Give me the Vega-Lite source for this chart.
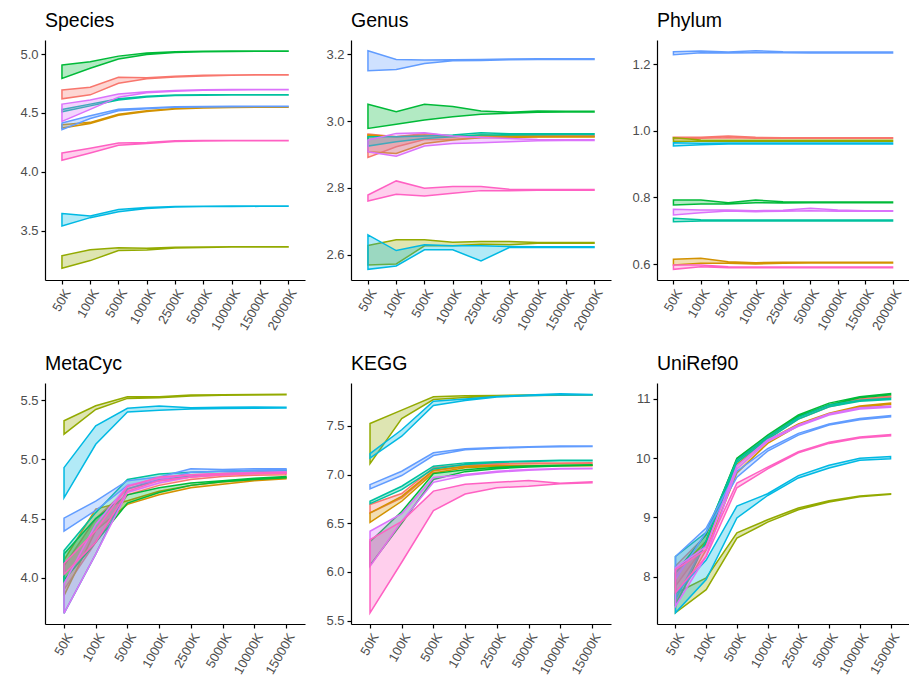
{
"$schema":"https://vega.github.io/schema/vega-lite/v6.json",
"padding":{"left":15,"top":10,"right":0,"bottom":0},
"background":"white",
"data":{"values":[
{"p":"Species","s":"S1","d":"50K","lo":4.62,"hi":4.696},{"p":"Species","s":"S1","d":"100K","lo":4.654,"hi":4.718},{"p":"Species","s":"S1","d":"500K","lo":4.752,"hi":4.803},{"p":"Species","s":"S1","d":"1000K","lo":4.79,"hi":4.80},{"p":"Species","s":"S1","d":"2500K","lo":4.805,"hi":4.812},{"p":"Species","s":"S1","d":"5000K","lo":4.815,"hi":4.82},{"p":"Species","s":"S1","d":"10000K","lo":4.82,"hi":4.823},{"p":"Species","s":"S1","d":"15000K","lo":4.822,"hi":4.824},{"p":"Species","s":"S1","d":"20000K","lo":4.822,"hi":4.824},
{"p":"Species","s":"S2","d":"50K","lo":4.372,"hi":4.40},{"p":"Species","s":"S2","d":"100K","lo":4.41,"hi":4.42},{"p":"Species","s":"S2","d":"500K","lo":4.48,"hi":4.49},{"p":"Species","s":"S2","d":"1000K","lo":4.512,"hi":4.518},{"p":"Species","s":"S2","d":"2500K","lo":4.533,"hi":4.538},{"p":"Species","s":"S2","d":"5000K","lo":4.543,"hi":4.547},{"p":"Species","s":"S2","d":"10000K","lo":4.547,"hi":4.55},{"p":"Species","s":"S2","d":"15000K","lo":4.549,"hi":4.551},{"p":"Species","s":"S2","d":"20000K","lo":4.549,"hi":4.551},
{"p":"Species","s":"S3","d":"50K","lo":3.18,"hi":3.287},{"p":"Species","s":"S3","d":"100K","lo":3.245,"hi":3.338},{"p":"Species","s":"S3","d":"500K","lo":3.33,"hi":3.355},{"p":"Species","s":"S3","d":"1000K","lo":3.335,"hi":3.35},{"p":"Species","s":"S3","d":"2500K","lo":3.352,"hi":3.358},{"p":"Species","s":"S3","d":"5000K","lo":3.357,"hi":3.36},{"p":"Species","s":"S3","d":"10000K","lo":3.36,"hi":3.362},{"p":"Species","s":"S3","d":"15000K","lo":3.361,"hi":3.363},{"p":"Species","s":"S3","d":"20000K","lo":3.361,"hi":3.363},
{"p":"Species","s":"S4","d":"50K","lo":4.794,"hi":4.907},{"p":"Species","s":"S4","d":"100K","lo":4.88,"hi":4.935},{"p":"Species","s":"S4","d":"500K","lo":4.958,"hi":4.983},{"p":"Species","s":"S4","d":"1000K","lo":4.997,"hi":5.01},{"p":"Species","s":"S4","d":"2500K","lo":5.013,"hi":5.02},{"p":"Species","s":"S4","d":"5000K","lo":5.02,"hi":5.024},{"p":"Species","s":"S4","d":"10000K","lo":5.023,"hi":5.026},{"p":"Species","s":"S4","d":"15000K","lo":5.024,"hi":5.026},{"p":"Species","s":"S4","d":"20000K","lo":5.025,"hi":5.027},
{"p":"Species","s":"S5","d":"50K","lo":4.51,"hi":4.53},{"p":"Species","s":"S5","d":"100K","lo":4.56,"hi":4.575},{"p":"Species","s":"S5","d":"500K","lo":4.61,"hi":4.62},{"p":"Species","s":"S5","d":"1000K","lo":4.635,"hi":4.642},{"p":"Species","s":"S5","d":"2500K","lo":4.648,"hi":4.652},{"p":"Species","s":"S5","d":"5000K","lo":4.651,"hi":4.654},{"p":"Species","s":"S5","d":"10000K","lo":4.652,"hi":4.655},{"p":"Species","s":"S5","d":"15000K","lo":4.653,"hi":4.655},{"p":"Species","s":"S5","d":"20000K","lo":4.653,"hi":4.655},
{"p":"Species","s":"S6","d":"50K","lo":3.54,"hi":3.645},{"p":"Species","s":"S6","d":"100K","lo":3.61,"hi":3.625},{"p":"Species","s":"S6","d":"500K","lo":3.66,"hi":3.68},{"p":"Species","s":"S6","d":"1000K","lo":3.688,"hi":3.696},{"p":"Species","s":"S6","d":"2500K","lo":3.70,"hi":3.705},{"p":"Species","s":"S6","d":"5000K","lo":3.704,"hi":3.707},{"p":"Species","s":"S6","d":"10000K","lo":3.705,"hi":3.708},{"p":"Species","s":"S6","d":"15000K","lo":3.706,"hi":3.708},{"p":"Species","s":"S6","d":"20000K","lo":3.706,"hi":3.708},
{"p":"Species","s":"S7","d":"50K","lo":4.358,"hi":4.414},{"p":"Species","s":"S7","d":"100K","lo":4.453,"hi":4.476},{"p":"Species","s":"S7","d":"500K","lo":4.518,"hi":4.532},{"p":"Species","s":"S7","d":"1000K","lo":4.535,"hi":4.543},{"p":"Species","s":"S7","d":"2500K","lo":4.548,"hi":4.553},{"p":"Species","s":"S7","d":"5000K","lo":4.551,"hi":4.555},{"p":"Species","s":"S7","d":"10000K","lo":4.553,"hi":4.556},{"p":"Species","s":"S7","d":"15000K","lo":4.554,"hi":4.557},{"p":"Species","s":"S7","d":"20000K","lo":4.554,"hi":4.557},
{"p":"Species","s":"S8","d":"50K","lo":4.428,"hi":4.575},{"p":"Species","s":"S8","d":"100K","lo":4.53,"hi":4.61},{"p":"Species","s":"S8","d":"500K","lo":4.634,"hi":4.66},{"p":"Species","s":"S8","d":"1000K","lo":4.672,"hi":4.68},{"p":"Species","s":"S8","d":"2500K","lo":4.685,"hi":4.69},{"p":"Species","s":"S8","d":"5000K","lo":4.693,"hi":4.697},{"p":"Species","s":"S8","d":"10000K","lo":4.696,"hi":4.699},{"p":"Species","s":"S8","d":"15000K","lo":4.697,"hi":4.70},{"p":"Species","s":"S8","d":"20000K","lo":4.697,"hi":4.70},
{"p":"Species","s":"S9","d":"50K","lo":4.098,"hi":4.16},{"p":"Species","s":"S9","d":"100K","lo":4.16,"hi":4.2},{"p":"Species","s":"S9","d":"500K","lo":4.225,"hi":4.245},{"p":"Species","s":"S9","d":"1000K","lo":4.24,"hi":4.248},{"p":"Species","s":"S9","d":"2500K","lo":4.258,"hi":4.263},{"p":"Species","s":"S9","d":"5000K","lo":4.262,"hi":4.265},{"p":"Species","s":"S9","d":"10000K","lo":4.263,"hi":4.266},{"p":"Species","s":"S9","d":"15000K","lo":4.264,"hi":4.266},{"p":"Species","s":"S9","d":"20000K","lo":4.264,"hi":4.266},

{"p":"Genus","s":"S1","d":"50K","lo":2.891,"hi":2.961},{"p":"Genus","s":"S1","d":"100K","lo":2.923,"hi":2.953},{"p":"Genus","s":"S1","d":"500K","lo":2.945,"hi":2.963},{"p":"Genus","s":"S1","d":"1000K","lo":2.945,"hi":2.955},{"p":"Genus","s":"S1","d":"2500K","lo":2.951,"hi":2.956},{"p":"Genus","s":"S1","d":"5000K","lo":2.952,"hi":2.956},{"p":"Genus","s":"S1","d":"10000K","lo":2.953,"hi":2.956},{"p":"Genus","s":"S1","d":"15000K","lo":2.954,"hi":2.956},{"p":"Genus","s":"S1","d":"20000K","lo":2.954,"hi":2.956},
{"p":"Genus","s":"S2","d":"50K","lo":2.908,"hi":2.958},{"p":"Genus","s":"S2","d":"100K","lo":2.903,"hi":2.953},{"p":"Genus","s":"S2","d":"500K","lo":2.933,"hi":2.958},{"p":"Genus","s":"S2","d":"1000K","lo":2.943,"hi":2.953},{"p":"Genus","s":"S2","d":"2500K","lo":2.95,"hi":2.958},{"p":"Genus","s":"S2","d":"5000K","lo":2.951,"hi":2.955},{"p":"Genus","s":"S2","d":"10000K","lo":2.952,"hi":2.954},{"p":"Genus","s":"S2","d":"15000K","lo":2.952,"hi":2.954},{"p":"Genus","s":"S2","d":"20000K","lo":2.952,"hi":2.954},
{"p":"Genus","s":"S3","d":"50K","lo":2.57,"hi":2.628},{"p":"Genus","s":"S3","d":"100K","lo":2.573,"hi":2.645},{"p":"Genus","s":"S3","d":"500K","lo":2.627,"hi":2.645},{"p":"Genus","s":"S3","d":"1000K","lo":2.627,"hi":2.638},{"p":"Genus","s":"S3","d":"2500K","lo":2.632,"hi":2.64},{"p":"Genus","s":"S3","d":"5000K","lo":2.63,"hi":2.64},{"p":"Genus","s":"S3","d":"10000K","lo":2.635,"hi":2.637},{"p":"Genus","s":"S3","d":"15000K","lo":2.635,"hi":2.637},{"p":"Genus","s":"S3","d":"20000K","lo":2.635,"hi":2.637},
{"p":"Genus","s":"S4","d":"50K","lo":2.978,"hi":3.05},{"p":"Genus","s":"S4","d":"100K","lo":2.99,"hi":3.028},{"p":"Genus","s":"S4","d":"500K","lo":3.003,"hi":3.05},{"p":"Genus","s":"S4","d":"1000K","lo":3.013,"hi":3.043},{"p":"Genus","s":"S4","d":"2500K","lo":3.02,"hi":3.03},{"p":"Genus","s":"S4","d":"5000K","lo":3.023,"hi":3.026},{"p":"Genus","s":"S4","d":"10000K","lo":3.026,"hi":3.03},{"p":"Genus","s":"S4","d":"15000K","lo":3.027,"hi":3.029},{"p":"Genus","s":"S4","d":"20000K","lo":3.027,"hi":3.029},
{"p":"Genus","s":"S5","d":"50K","lo":2.925,"hi":2.953},{"p":"Genus","s":"S5","d":"100K","lo":2.938,"hi":2.953},{"p":"Genus","s":"S5","d":"500K","lo":2.948,"hi":2.955},{"p":"Genus","s":"S5","d":"1000K","lo":2.953,"hi":2.958},{"p":"Genus","s":"S5","d":"2500K","lo":2.958,"hi":2.965},{"p":"Genus","s":"S5","d":"5000K","lo":2.958,"hi":2.962},{"p":"Genus","s":"S5","d":"10000K","lo":2.959,"hi":2.962},{"p":"Genus","s":"S5","d":"15000K","lo":2.96,"hi":2.962},{"p":"Genus","s":"S5","d":"20000K","lo":2.96,"hi":2.962},
{"p":"Genus","s":"S6","d":"50K","lo":2.557,"hi":2.66},{"p":"Genus","s":"S6","d":"100K","lo":2.567,"hi":2.613},{"p":"Genus","s":"S6","d":"500K","lo":2.615,"hi":2.63},{"p":"Genus","s":"S6","d":"1000K","lo":2.615,"hi":2.627},{"p":"Genus","s":"S6","d":"2500K","lo":2.582,"hi":2.627},{"p":"Genus","s":"S6","d":"5000K","lo":2.622,"hi":2.625},{"p":"Genus","s":"S6","d":"10000K","lo":2.622,"hi":2.624},{"p":"Genus","s":"S6","d":"15000K","lo":2.622,"hi":2.624},{"p":"Genus","s":"S6","d":"20000K","lo":2.622,"hi":2.624},
{"p":"Genus","s":"S7","d":"50K","lo":3.15,"hi":3.21},{"p":"Genus","s":"S7","d":"100K","lo":3.154,"hi":3.184},{"p":"Genus","s":"S7","d":"500K","lo":3.172,"hi":3.182},{"p":"Genus","s":"S7","d":"1000K","lo":3.18,"hi":3.183},{"p":"Genus","s":"S7","d":"2500K","lo":3.181,"hi":3.184},{"p":"Genus","s":"S7","d":"5000K","lo":3.183,"hi":3.185},{"p":"Genus","s":"S7","d":"10000K","lo":3.184,"hi":3.186},{"p":"Genus","s":"S7","d":"15000K","lo":3.184,"hi":3.186},{"p":"Genus","s":"S7","d":"20000K","lo":3.184,"hi":3.186},
{"p":"Genus","s":"S8","d":"50K","lo":2.908,"hi":2.943},{"p":"Genus","s":"S8","d":"100K","lo":2.895,"hi":2.963},{"p":"Genus","s":"S8","d":"500K","lo":2.925,"hi":2.965},{"p":"Genus","s":"S8","d":"1000K","lo":2.933,"hi":2.955},{"p":"Genus","s":"S8","d":"2500K","lo":2.935,"hi":2.951},{"p":"Genus","s":"S8","d":"5000K","lo":2.938,"hi":2.948},{"p":"Genus","s":"S8","d":"10000K","lo":2.941,"hi":2.945},{"p":"Genus","s":"S8","d":"15000K","lo":2.942,"hi":2.944},{"p":"Genus","s":"S8","d":"20000K","lo":2.942,"hi":2.944},
{"p":"Genus","s":"S9","d":"50K","lo":2.761,"hi":2.779},{"p":"Genus","s":"S9","d":"100K","lo":2.781,"hi":2.821},{"p":"Genus","s":"S9","d":"500K","lo":2.776,"hi":2.799},{"p":"Genus","s":"S9","d":"1000K","lo":2.784,"hi":2.804},{"p":"Genus","s":"S9","d":"2500K","lo":2.792,"hi":2.804},{"p":"Genus","s":"S9","d":"5000K","lo":2.792,"hi":2.796},{"p":"Genus","s":"S9","d":"10000K","lo":2.793,"hi":2.795},{"p":"Genus","s":"S9","d":"15000K","lo":2.793,"hi":2.795},{"p":"Genus","s":"S9","d":"20000K","lo":2.793,"hi":2.795},

{"p":"Phylum","s":"S1","d":"50K","lo":0.976,"hi":0.98},{"p":"Phylum","s":"S1","d":"100K","lo":0.977,"hi":0.98},{"p":"Phylum","s":"S1","d":"500K","lo":0.979,"hi":0.984},{"p":"Phylum","s":"S1","d":"1000K","lo":0.977,"hi":0.98},{"p":"Phylum","s":"S1","d":"2500K","lo":0.977,"hi":0.979},{"p":"Phylum","s":"S1","d":"5000K","lo":0.977,"hi":0.979},{"p":"Phylum","s":"S1","d":"10000K","lo":0.977,"hi":0.979},{"p":"Phylum","s":"S1","d":"15000K","lo":0.977,"hi":0.979},{"p":"Phylum","s":"S1","d":"20000K","lo":0.977,"hi":0.979},
{"p":"Phylum","s":"S2","d":"50K","lo":0.597,"hi":0.614},{"p":"Phylum","s":"S2","d":"100K","lo":0.602,"hi":0.617},{"p":"Phylum","s":"S2","d":"500K","lo":0.602,"hi":0.607},{"p":"Phylum","s":"S2","d":"1000K","lo":0.60,"hi":0.604},{"p":"Phylum","s":"S2","d":"2500K","lo":0.602,"hi":0.605},{"p":"Phylum","s":"S2","d":"5000K","lo":0.603,"hi":0.605},{"p":"Phylum","s":"S2","d":"10000K","lo":0.603,"hi":0.605},{"p":"Phylum","s":"S2","d":"15000K","lo":0.603,"hi":0.605},{"p":"Phylum","s":"S2","d":"20000K","lo":0.603,"hi":0.605},
{"p":"Phylum","s":"S3","d":"50K","lo":0.968,"hi":0.979},{"p":"Phylum","s":"S3","d":"100K","lo":0.968,"hi":0.972},{"p":"Phylum","s":"S3","d":"500K","lo":0.968,"hi":0.971},{"p":"Phylum","s":"S3","d":"1000K","lo":0.968,"hi":0.971},{"p":"Phylum","s":"S3","d":"2500K","lo":0.968,"hi":0.971},{"p":"Phylum","s":"S3","d":"5000K","lo":0.968,"hi":0.971},{"p":"Phylum","s":"S3","d":"10000K","lo":0.968,"hi":0.971},{"p":"Phylum","s":"S3","d":"15000K","lo":0.968,"hi":0.971},{"p":"Phylum","s":"S3","d":"20000K","lo":0.968,"hi":0.971},
{"p":"Phylum","s":"S4","d":"50K","lo":0.777,"hi":0.792},{"p":"Phylum","s":"S4","d":"100K","lo":0.78,"hi":0.792},{"p":"Phylum","s":"S4","d":"500K","lo":0.78,"hi":0.784},{"p":"Phylum","s":"S4","d":"1000K","lo":0.784,"hi":0.792},{"p":"Phylum","s":"S4","d":"2500K","lo":0.783,"hi":0.787},{"p":"Phylum","s":"S4","d":"5000K","lo":0.784,"hi":0.786},{"p":"Phylum","s":"S4","d":"10000K","lo":0.784,"hi":0.786},{"p":"Phylum","s":"S4","d":"15000K","lo":0.784,"hi":0.786},{"p":"Phylum","s":"S4","d":"20000K","lo":0.784,"hi":0.786},
{"p":"Phylum","s":"S5","d":"50K","lo":0.727,"hi":0.737},{"p":"Phylum","s":"S5","d":"100K","lo":0.729,"hi":0.733},{"p":"Phylum","s":"S5","d":"500K","lo":0.729,"hi":0.732},{"p":"Phylum","s":"S5","d":"1000K","lo":0.729,"hi":0.732},{"p":"Phylum","s":"S5","d":"2500K","lo":0.729,"hi":0.732},{"p":"Phylum","s":"S5","d":"5000K","lo":0.729,"hi":0.732},{"p":"Phylum","s":"S5","d":"10000K","lo":0.729,"hi":0.732},{"p":"Phylum","s":"S5","d":"15000K","lo":0.729,"hi":0.732},{"p":"Phylum","s":"S5","d":"20000K","lo":0.729,"hi":0.732},
{"p":"Phylum","s":"S6","d":"50K","lo":0.954,"hi":0.964},{"p":"Phylum","s":"S6","d":"100K","lo":0.958,"hi":0.962},{"p":"Phylum","s":"S6","d":"500K","lo":0.96,"hi":0.963},{"p":"Phylum","s":"S6","d":"1000K","lo":0.96,"hi":0.963},{"p":"Phylum","s":"S6","d":"2500K","lo":0.96,"hi":0.963},{"p":"Phylum","s":"S6","d":"5000K","lo":0.96,"hi":0.963},{"p":"Phylum","s":"S6","d":"10000K","lo":0.96,"hi":0.963},{"p":"Phylum","s":"S6","d":"15000K","lo":0.96,"hi":0.963},{"p":"Phylum","s":"S6","d":"20000K","lo":0.96,"hi":0.963},
{"p":"Phylum","s":"S7","d":"50K","lo":1.228,"hi":1.237},{"p":"Phylum","s":"S7","d":"100K","lo":1.234,"hi":1.239},{"p":"Phylum","s":"S7","d":"500K","lo":1.233,"hi":1.236},{"p":"Phylum","s":"S7","d":"1000K","lo":1.234,"hi":1.24},{"p":"Phylum","s":"S7","d":"2500K","lo":1.234,"hi":1.237},{"p":"Phylum","s":"S7","d":"5000K","lo":1.233,"hi":1.236},{"p":"Phylum","s":"S7","d":"10000K","lo":1.233,"hi":1.236},{"p":"Phylum","s":"S7","d":"15000K","lo":1.233,"hi":1.236},{"p":"Phylum","s":"S7","d":"20000K","lo":1.233,"hi":1.236},
{"p":"Phylum","s":"S8","d":"50K","lo":0.747,"hi":0.764},{"p":"Phylum","s":"S8","d":"100K","lo":0.754,"hi":0.762},{"p":"Phylum","s":"S8","d":"500K","lo":0.759,"hi":0.762},{"p":"Phylum","s":"S8","d":"1000K","lo":0.757,"hi":0.76},{"p":"Phylum","s":"S8","d":"2500K","lo":0.758,"hi":0.761},{"p":"Phylum","s":"S8","d":"5000K","lo":0.76,"hi":0.767},{"p":"Phylum","s":"S8","d":"10000K","lo":0.758,"hi":0.762},{"p":"Phylum","s":"S8","d":"15000K","lo":0.758,"hi":0.76},{"p":"Phylum","s":"S8","d":"20000K","lo":0.758,"hi":0.76},
{"p":"Phylum","s":"S9","d":"50K","lo":0.584,"hi":0.597},{"p":"Phylum","s":"S9","d":"100K","lo":0.592,"hi":0.597},{"p":"Phylum","s":"S9","d":"500K","lo":0.589,"hi":0.592},{"p":"Phylum","s":"S9","d":"1000K","lo":0.589,"hi":0.591},{"p":"Phylum","s":"S9","d":"2500K","lo":0.589,"hi":0.591},{"p":"Phylum","s":"S9","d":"5000K","lo":0.589,"hi":0.591},{"p":"Phylum","s":"S9","d":"10000K","lo":0.589,"hi":0.591},{"p":"Phylum","s":"S9","d":"15000K","lo":0.589,"hi":0.591},{"p":"Phylum","s":"S9","d":"20000K","lo":0.589,"hi":0.591},

{"p":"MetaCyc","s":"S1","d":"50K","lo":3.9,"hi":4.1},{"p":"MetaCyc","s":"S1","d":"100K","lo":4.3,"hi":4.5},{"p":"MetaCyc","s":"S1","d":"500K","lo":4.7,"hi":4.75},{"p":"MetaCyc","s":"S1","d":"1000K","lo":4.78,"hi":4.82},{"p":"MetaCyc","s":"S1","d":"2500K","lo":4.83,"hi":4.85},{"p":"MetaCyc","s":"S1","d":"5000K","lo":4.855,"hi":4.87},{"p":"MetaCyc","s":"S1","d":"10000K","lo":4.865,"hi":4.88},{"p":"MetaCyc","s":"S1","d":"15000K","lo":4.87,"hi":4.885},
{"p":"MetaCyc","s":"S2","d":"50K","lo":3.85,"hi":4.15},{"p":"MetaCyc","s":"S2","d":"100K","lo":4.4,"hi":4.58},{"p":"MetaCyc","s":"S2","d":"500K","lo":4.62,"hi":4.65},{"p":"MetaCyc","s":"S2","d":"1000K","lo":4.7,"hi":4.73},{"p":"MetaCyc","s":"S2","d":"2500K","lo":4.76,"hi":4.78},{"p":"MetaCyc","s":"S2","d":"5000K","lo":4.79,"hi":4.81},{"p":"MetaCyc","s":"S2","d":"10000K","lo":4.82,"hi":4.83},{"p":"MetaCyc","s":"S2","d":"15000K","lo":4.835,"hi":4.845},
{"p":"MetaCyc","s":"S3","d":"50K","lo":5.212,"hi":5.325},{"p":"MetaCyc","s":"S3","d":"100K","lo":5.421,"hi":5.452},{"p":"MetaCyc","s":"S3","d":"500K","lo":5.514,"hi":5.528},{"p":"MetaCyc","s":"S3","d":"1000K","lo":5.52,"hi":5.528},{"p":"MetaCyc","s":"S3","d":"2500K","lo":5.535,"hi":5.542},{"p":"MetaCyc","s":"S3","d":"5000K","lo":5.54,"hi":5.545},{"p":"MetaCyc","s":"S3","d":"10000K","lo":5.542,"hi":5.546},{"p":"MetaCyc","s":"S3","d":"15000K","lo":5.544,"hi":5.548},
{"p":"MetaCyc","s":"S4","d":"50K","lo":3.98,"hi":4.2},{"p":"MetaCyc","s":"S4","d":"100K","lo":4.3,"hi":4.5},{"p":"MetaCyc","s":"S4","d":"500K","lo":4.63,"hi":4.7},{"p":"MetaCyc","s":"S4","d":"1000K","lo":4.72,"hi":4.76},{"p":"MetaCyc","s":"S4","d":"2500K","lo":4.78,"hi":4.8},{"p":"MetaCyc","s":"S4","d":"5000K","lo":4.81,"hi":4.82},{"p":"MetaCyc","s":"S4","d":"10000K","lo":4.83,"hi":4.84},{"p":"MetaCyc","s":"S4","d":"15000K","lo":4.845,"hi":4.855},
{"p":"MetaCyc","s":"S5","d":"50K","lo":3.7,"hi":4.23},{"p":"MetaCyc","s":"S5","d":"100K","lo":4.2,"hi":4.55},{"p":"MetaCyc","s":"S5","d":"500K","lo":4.75,"hi":4.83},{"p":"MetaCyc","s":"S5","d":"1000K","lo":4.83,"hi":4.875},{"p":"MetaCyc","s":"S5","d":"2500K","lo":4.86,"hi":4.89},{"p":"MetaCyc","s":"S5","d":"5000K","lo":4.88,"hi":4.9},{"p":"MetaCyc","s":"S5","d":"10000K","lo":4.89,"hi":4.905},{"p":"MetaCyc","s":"S5","d":"15000K","lo":4.9,"hi":4.91},
{"p":"MetaCyc","s":"S6","d":"50K","lo":4.675,"hi":4.93},{"p":"MetaCyc","s":"S6","d":"100K","lo":5.127,"hi":5.283},{"p":"MetaCyc","s":"S6","d":"500K","lo":5.4,"hi":5.43},{"p":"MetaCyc","s":"S6","d":"1000K","lo":5.415,"hi":5.45},{"p":"MetaCyc","s":"S6","d":"2500K","lo":5.425,"hi":5.435},{"p":"MetaCyc","s":"S6","d":"5000K","lo":5.428,"hi":5.44},{"p":"MetaCyc","s":"S6","d":"10000K","lo":5.43,"hi":5.442},{"p":"MetaCyc","s":"S6","d":"15000K","lo":5.432,"hi":5.44},
{"p":"MetaCyc","s":"S7","d":"50K","lo":4.393,"hi":4.503},{"p":"MetaCyc","s":"S7","d":"100K","lo":4.568,"hi":4.647},{"p":"MetaCyc","s":"S7","d":"500K","lo":4.78,"hi":4.82},{"p":"MetaCyc","s":"S7","d":"1000K","lo":4.82,"hi":4.85},{"p":"MetaCyc","s":"S7","d":"2500K","lo":4.89,"hi":4.92},{"p":"MetaCyc","s":"S7","d":"5000K","lo":4.9,"hi":4.915},{"p":"MetaCyc","s":"S7","d":"10000K","lo":4.905,"hi":4.92},{"p":"MetaCyc","s":"S7","d":"15000K","lo":4.91,"hi":4.92},
{"p":"MetaCyc","s":"S8","d":"50K","lo":3.7,"hi":3.95},{"p":"MetaCyc","s":"S8","d":"100K","lo":4.2,"hi":4.45},{"p":"MetaCyc","s":"S8","d":"500K","lo":4.72,"hi":4.78},{"p":"MetaCyc","s":"S8","d":"1000K","lo":4.8,"hi":4.84},{"p":"MetaCyc","s":"S8","d":"2500K","lo":4.85,"hi":4.87},{"p":"MetaCyc","s":"S8","d":"5000K","lo":4.87,"hi":4.88},{"p":"MetaCyc","s":"S8","d":"10000K","lo":4.88,"hi":4.89},{"p":"MetaCyc","s":"S8","d":"15000K","lo":4.885,"hi":4.895},
{"p":"MetaCyc","s":"S9","d":"50K","lo":4.03,"hi":4.12},{"p":"MetaCyc","s":"S9","d":"100K","lo":4.3,"hi":4.4},{"p":"MetaCyc","s":"S9","d":"500K","lo":4.73,"hi":4.77},{"p":"MetaCyc","s":"S9","d":"1000K","lo":4.82,"hi":4.85},{"p":"MetaCyc","s":"S9","d":"2500K","lo":4.85,"hi":4.87},{"p":"MetaCyc","s":"S9","d":"5000K","lo":4.87,"hi":4.88},{"p":"MetaCyc","s":"S9","d":"10000K","lo":4.88,"hi":4.885},{"p":"MetaCyc","s":"S9","d":"15000K","lo":4.882,"hi":4.89},

{"p":"KEGG","s":"S1","d":"50K","lo":6.606,"hi":6.692},{"p":"KEGG","s":"S1","d":"100K","lo":6.76,"hi":6.805},{"p":"KEGG","s":"S1","d":"500K","lo":7.036,"hi":7.07},{"p":"KEGG","s":"S1","d":"1000K","lo":7.086,"hi":7.103},{"p":"KEGG","s":"S1","d":"2500K","lo":7.105,"hi":7.113},{"p":"KEGG","s":"S1","d":"5000K","lo":7.112,"hi":7.118},{"p":"KEGG","s":"S1","d":"10000K","lo":7.115,"hi":7.12},{"p":"KEGG","s":"S1","d":"15000K","lo":7.117,"hi":7.121},
{"p":"KEGG","s":"S2","d":"50K","lo":6.51,"hi":6.606},{"p":"KEGG","s":"S2","d":"100K","lo":6.726,"hi":6.777},{"p":"KEGG","s":"S2","d":"500K","lo":7.017,"hi":7.045},{"p":"KEGG","s":"S2","d":"1000K","lo":7.07,"hi":7.086},{"p":"KEGG","s":"S2","d":"2500K","lo":7.085,"hi":7.093},{"p":"KEGG","s":"S2","d":"5000K","lo":7.088,"hi":7.094},{"p":"KEGG","s":"S2","d":"10000K","lo":7.09,"hi":7.095},{"p":"KEGG","s":"S2","d":"15000K","lo":7.091,"hi":7.095},
{"p":"KEGG","s":"S3","d":"50K","lo":7.113,"hi":7.524},{"p":"KEGG","s":"S3","d":"100K","lo":7.575,"hi":7.661},{"p":"KEGG","s":"S3","d":"500K","lo":7.77,"hi":7.798},{"p":"KEGG","s":"S3","d":"1000K","lo":7.79,"hi":7.81},{"p":"KEGG","s":"S3","d":"2500K","lo":7.805,"hi":7.812},{"p":"KEGG","s":"S3","d":"5000K","lo":7.812,"hi":7.818},{"p":"KEGG","s":"S3","d":"10000K","lo":7.815,"hi":7.82},{"p":"KEGG","s":"S3","d":"15000K","lo":7.816,"hi":7.82},
{"p":"KEGG","s":"S4","d":"50K","lo":6.07,"hi":6.31},{"p":"KEGG","s":"S4","d":"100K","lo":6.5,"hi":6.62},{"p":"KEGG","s":"S4","d":"500K","lo":6.95,"hi":7.01},{"p":"KEGG","s":"S4","d":"1000K","lo":7.03,"hi":7.05},{"p":"KEGG","s":"S4","d":"2500K","lo":7.06,"hi":7.075},{"p":"KEGG","s":"S4","d":"5000K","lo":7.078,"hi":7.088},{"p":"KEGG","s":"S4","d":"10000K","lo":7.088,"hi":7.096},{"p":"KEGG","s":"S4","d":"15000K","lo":7.095,"hi":7.1},
{"p":"KEGG","s":"S5","d":"50K","lo":6.702,"hi":6.726},{"p":"KEGG","s":"S5","d":"100K","lo":6.846,"hi":6.88},{"p":"KEGG","s":"S5","d":"500K","lo":7.058,"hi":7.086},{"p":"KEGG","s":"S5","d":"1000K","lo":7.103,"hi":7.12},{"p":"KEGG","s":"S5","d":"2500K","lo":7.125,"hi":7.132},{"p":"KEGG","s":"S5","d":"5000K","lo":7.133,"hi":7.14},{"p":"KEGG","s":"S5","d":"10000K","lo":7.142,"hi":7.148},{"p":"KEGG","s":"S5","d":"15000K","lo":7.143,"hi":7.148},
{"p":"KEGG","s":"S6","d":"50K","lo":7.17,"hi":7.216},{"p":"KEGG","s":"S6","d":"100K","lo":7.394,"hi":7.46},{"p":"KEGG","s":"S6","d":"500K","lo":7.71,"hi":7.753},{"p":"KEGG","s":"S6","d":"1000K","lo":7.76,"hi":7.777},{"p":"KEGG","s":"S6","d":"2500K","lo":7.795,"hi":7.802},{"p":"KEGG","s":"S6","d":"5000K","lo":7.81,"hi":7.817},{"p":"KEGG","s":"S6","d":"10000K","lo":7.82,"hi":7.83},{"p":"KEGG","s":"S6","d":"15000K","lo":7.818,"hi":7.822},
{"p":"KEGG","s":"S7","d":"50K","lo":6.853,"hi":6.897},{"p":"KEGG","s":"S7","d":"100K","lo":6.99,"hi":7.034},{"p":"KEGG","s":"S7","d":"500K","lo":7.195,"hi":7.223},{"p":"KEGG","s":"S7","d":"1000K","lo":7.255,"hi":7.264},{"p":"KEGG","s":"S7","d":"2500K","lo":7.27,"hi":7.277},{"p":"KEGG","s":"S7","d":"5000K","lo":7.28,"hi":7.286},{"p":"KEGG","s":"S7","d":"10000K","lo":7.286,"hi":7.292},{"p":"KEGG","s":"S7","d":"15000K","lo":7.287,"hi":7.292},
{"p":"KEGG","s":"S8","d":"50K","lo":6.058,"hi":6.418},{"p":"KEGG","s":"S8","d":"100K","lo":6.52,"hi":6.6},{"p":"KEGG","s":"S8","d":"500K","lo":6.92,"hi":6.97},{"p":"KEGG","s":"S8","d":"1000K","lo":6.99,"hi":7.0},{"p":"KEGG","s":"S8","d":"2500K","lo":7.025,"hi":7.035},{"p":"KEGG","s":"S8","d":"5000K","lo":7.045,"hi":7.052},{"p":"KEGG","s":"S8","d":"10000K","lo":7.056,"hi":7.062},{"p":"KEGG","s":"S8","d":"15000K","lo":7.06,"hi":7.066},
{"p":"KEGG","s":"S9","d":"50K","lo":5.579,"hi":6.332},{"p":"KEGG","s":"S9","d":"100K","lo":6.1,"hi":6.52},{"p":"KEGG","s":"S9","d":"500K","lo":6.63,"hi":6.83},{"p":"KEGG","s":"S9","d":"1000K","lo":6.8,"hi":6.9},{"p":"KEGG","s":"S9","d":"2500K","lo":6.865,"hi":6.92},{"p":"KEGG","s":"S9","d":"5000K","lo":6.88,"hi":6.94},{"p":"KEGG","s":"S9","d":"10000K","lo":6.905,"hi":6.91},{"p":"KEGG","s":"S9","d":"15000K","lo":6.915,"hi":6.925},

{"p":"UniRef90","s":"S1","d":"50K","lo":7.84,"hi":8.18},{"p":"UniRef90","s":"S1","d":"100K","lo":8.55,"hi":8.7},{"p":"UniRef90","s":"S1","d":"500K","lo":9.96,"hi":9.99},{"p":"UniRef90","s":"S1","d":"1000K","lo":10.33,"hi":10.37},{"p":"UniRef90","s":"S1","d":"2500K","lo":10.66,"hi":10.7},{"p":"UniRef90","s":"S1","d":"5000K","lo":10.87,"hi":10.9},{"p":"UniRef90","s":"S1","d":"10000K","lo":10.98,"hi":11.0},{"p":"UniRef90","s":"S1","d":"15000K","lo":11.03,"hi":11.05},
{"p":"UniRef90","s":"S2","d":"50K","lo":7.55,"hi":8.06},{"p":"UniRef90","s":"S2","d":"100K","lo":8.45,"hi":8.6},{"p":"UniRef90","s":"S2","d":"500K","lo":9.75,"hi":9.9},{"p":"UniRef90","s":"S2","d":"1000K","lo":10.25,"hi":10.3},{"p":"UniRef90","s":"S2","d":"2500K","lo":10.55,"hi":10.58},{"p":"UniRef90","s":"S2","d":"5000K","lo":10.74,"hi":10.76},{"p":"UniRef90","s":"S2","d":"10000K","lo":10.86,"hi":10.88},{"p":"UniRef90","s":"S2","d":"15000K","lo":10.91,"hi":10.93},
{"p":"UniRef90","s":"S3","d":"50K","lo":7.39,"hi":7.72},{"p":"UniRef90","s":"S3","d":"100K","lo":7.78,"hi":7.98},{"p":"UniRef90","s":"S3","d":"500K","lo":8.65,"hi":8.74},{"p":"UniRef90","s":"S3","d":"1000K","lo":8.92,"hi":8.96},{"p":"UniRef90","s":"S3","d":"2500K","lo":9.13,"hi":9.16},{"p":"UniRef90","s":"S3","d":"5000K","lo":9.26,"hi":9.28},{"p":"UniRef90","s":"S3","d":"10000K","lo":9.35,"hi":9.36},{"p":"UniRef90","s":"S3","d":"15000K","lo":9.39,"hi":9.4},
{"p":"UniRef90","s":"S4","d":"50K","lo":7.5,"hi":8.06},{"p":"UniRef90","s":"S4","d":"100K","lo":8.6,"hi":8.72},{"p":"UniRef90","s":"S4","d":"500K","lo":9.97,"hi":10.0},{"p":"UniRef90","s":"S4","d":"1000K","lo":10.35,"hi":10.39},{"p":"UniRef90","s":"S4","d":"2500K","lo":10.7,"hi":10.73},{"p":"UniRef90","s":"S4","d":"5000K","lo":10.9,"hi":10.93},{"p":"UniRef90","s":"S4","d":"10000K","lo":11.02,"hi":11.04},{"p":"UniRef90","s":"S4","d":"15000K","lo":11.07,"hi":11.09},
{"p":"UniRef90","s":"S5","d":"50K","lo":7.61,"hi":8.34},{"p":"UniRef90","s":"S5","d":"100K","lo":8.6,"hi":8.75},{"p":"UniRef90","s":"S5","d":"500K","lo":9.93,"hi":9.97},{"p":"UniRef90","s":"S5","d":"1000K","lo":10.32,"hi":10.36},{"p":"UniRef90","s":"S5","d":"2500K","lo":10.66,"hi":10.69},{"p":"UniRef90","s":"S5","d":"5000K","lo":10.87,"hi":10.9},{"p":"UniRef90","s":"S5","d":"10000K","lo":10.96,"hi":10.98},{"p":"UniRef90","s":"S5","d":"15000K","lo":10.99,"hi":11.01},
{"p":"UniRef90","s":"S6","d":"50K","lo":7.39,"hi":7.72},{"p":"UniRef90","s":"S6","d":"100K","lo":7.95,"hi":8.28},{"p":"UniRef90","s":"S6","d":"500K","lo":8.99,"hi":9.19},{"p":"UniRef90","s":"S6","d":"1000K","lo":9.37,"hi":9.4},{"p":"UniRef90","s":"S6","d":"2500K","lo":9.667,"hi":9.706},{"p":"UniRef90","s":"S6","d":"5000K","lo":9.835,"hi":9.88},{"p":"UniRef90","s":"S6","d":"10000K","lo":9.965,"hi":10.0},{"p":"UniRef90","s":"S6","d":"15000K","lo":9.99,"hi":10.03},
{"p":"UniRef90","s":"S7","d":"50K","lo":7.95,"hi":8.34},{"p":"UniRef90","s":"S7","d":"100K","lo":8.75,"hi":8.82},{"p":"UniRef90","s":"S7","d":"500K","lo":9.68,"hi":9.78},{"p":"UniRef90","s":"S7","d":"1000K","lo":10.12,"hi":10.16},{"p":"UniRef90","s":"S7","d":"2500K","lo":10.39,"hi":10.42},{"p":"UniRef90","s":"S7","d":"5000K","lo":10.56,"hi":10.58},{"p":"UniRef90","s":"S7","d":"10000K","lo":10.65,"hi":10.67},{"p":"UniRef90","s":"S7","d":"15000K","lo":10.7,"hi":10.72},
{"p":"UniRef90","s":"S8","d":"50K","lo":7.5,"hi":8.15},{"p":"UniRef90","s":"S8","d":"100K","lo":8.34,"hi":8.51},{"p":"UniRef90","s":"S8","d":"500K","lo":9.82,"hi":9.875},{"p":"UniRef90","s":"S8","d":"1000K","lo":10.28,"hi":10.31},{"p":"UniRef90","s":"S8","d":"2500K","lo":10.54,"hi":10.56},{"p":"UniRef90","s":"S8","d":"5000K","lo":10.73,"hi":10.75},{"p":"UniRef90","s":"S8","d":"10000K","lo":10.83,"hi":10.85},{"p":"UniRef90","s":"S8","d":"15000K","lo":10.86,"hi":10.88},
{"p":"UniRef90","s":"S9","d":"50K","lo":7.73,"hi":8.12},{"p":"UniRef90","s":"S9","d":"100K","lo":8.34,"hi":8.46},{"p":"UniRef90","s":"S9","d":"500K","lo":9.5,"hi":9.58},{"p":"UniRef90","s":"S9","d":"1000K","lo":9.82,"hi":9.85},{"p":"UniRef90","s":"S9","d":"2500K","lo":10.09,"hi":10.11},{"p":"UniRef90","s":"S9","d":"5000K","lo":10.25,"hi":10.27},{"p":"UniRef90","s":"S9","d":"10000K","lo":10.34,"hi":10.36},{"p":"UniRef90","s":"S9","d":"15000K","lo":10.38,"hi":10.4}
]},
"columns":3,
"spacing":{"row":20,"column":16},
"concat":[
{"title":"Species","width":260,"height":240,"transform":[{"filter":"datum.p=='Species'"}],
 "mark":{"type":"area","fillOpacity":0.3,"strokeWidth":1.5,"strokeOpacity":1},
 "encoding":{
  "x":{"field":"d","type":"ordinal","scale":{"type":"point","padding":0.6,"domain":["50K","100K","500K","1000K","2500K","5000K","10000K","15000K","20000K"]},"axis":{"title":null}},
  "y":{"field":"hi","type":"quantitative","scale":{"domain":[3.08,5.12],"zero":false,"nice":false},"axis":{"title":null,"values":[3.5,4,4.5,5],"format":".1f"}},
  "y2":{"field":"lo"},
  "color":{"field":"s","type":"nominal","scale":{"domain":["S1","S2","S3","S4","S5","S6","S7","S8","S9"],"range":["#F8766D","#D39200","#93AA00","#00BA38","#00C19F","#00B9E3","#619CFF","#DB72FB","#FF61C3"]},"legend":null},
  "stroke":{"field":"s","type":"nominal","scale":{"domain":["S1","S2","S3","S4","S5","S6","S7","S8","S9"],"range":["#F8766D","#D39200","#93AA00","#00BA38","#00C19F","#00B9E3","#619CFF","#DB72FB","#FF61C3"]},"legend":null}}},
{"title":"Genus","width":260,"height":240,"transform":[{"filter":"datum.p=='Genus'"}],
 "mark":{"type":"area","fillOpacity":0.3,"strokeWidth":1.5,"strokeOpacity":1},
 "encoding":{
  "x":{"field":"d","type":"ordinal","scale":{"type":"point","padding":0.6,"domain":["50K","100K","500K","1000K","2500K","5000K","10000K","15000K","20000K"]},"axis":{"title":null}},
  "y":{"field":"hi","type":"quantitative","scale":{"domain":[2.525,3.242],"zero":false,"nice":false},"axis":{"title":null,"values":[2.6,2.8,3.0,3.2],"format":".1f"}},
  "y2":{"field":"lo"},
  "color":{"field":"s","type":"nominal","scale":{"domain":["S1","S2","S3","S4","S5","S6","S7","S8","S9"],"range":["#F8766D","#D39200","#93AA00","#00BA38","#00C19F","#00B9E3","#619CFF","#DB72FB","#FF61C3"]},"legend":null},
  "stroke":{"field":"s","type":"nominal","scale":{"domain":["S1","S2","S3","S4","S5","S6","S7","S8","S9"],"range":["#F8766D","#D39200","#93AA00","#00BA38","#00C19F","#00B9E3","#619CFF","#DB72FB","#FF61C3"]},"legend":null}}},
{"title":"Phylum","width":252,"height":240,"transform":[{"filter":"datum.p=='Phylum'"}],
 "mark":{"type":"area","fillOpacity":0.3,"strokeWidth":1.5,"strokeOpacity":1},
 "encoding":{
  "x":{"field":"d","type":"ordinal","scale":{"type":"point","padding":0.6,"domain":["50K","100K","500K","1000K","2500K","5000K","10000K","15000K","20000K"]},"axis":{"title":null}},
  "y":{"field":"hi","type":"quantitative","scale":{"domain":[0.552,1.272],"zero":false,"nice":false},"axis":{"title":null,"values":[0.6,0.8,1.0,1.2],"format":".1f"}},
  "y2":{"field":"lo"},
  "color":{"field":"s","type":"nominal","scale":{"domain":["S1","S2","S3","S4","S5","S6","S7","S8","S9"],"range":["#F8766D","#D39200","#93AA00","#00BA38","#00C19F","#00B9E3","#619CFF","#DB72FB","#FF61C3"]},"legend":null},
  "stroke":{"field":"s","type":"nominal","scale":{"domain":["S1","S2","S3","S4","S5","S6","S7","S8","S9"],"range":["#F8766D","#D39200","#93AA00","#00BA38","#00C19F","#00B9E3","#619CFF","#DB72FB","#FF61C3"]},"legend":null}}},
{"title":"MetaCyc","width":260,"height":241,"transform":[{"filter":"datum.p=='MetaCyc'"}],
 "mark":{"type":"area","fillOpacity":0.3,"strokeWidth":1.5,"strokeOpacity":1},
 "encoding":{
  "x":{"field":"d","type":"ordinal","scale":{"type":"point","padding":0.6,"domain":["50K","100K","500K","1000K","2500K","5000K","10000K","15000K"]},"axis":{"title":null}},
  "y":{"field":"hi","type":"quantitative","scale":{"domain":[3.61,5.644],"zero":false,"nice":false},"axis":{"title":null,"values":[4.0,4.5,5.0,5.5],"format":".1f"}},
  "y2":{"field":"lo"},
  "color":{"field":"s","type":"nominal","scale":{"domain":["S1","S2","S3","S4","S5","S6","S7","S8","S9"],"range":["#F8766D","#D39200","#93AA00","#00BA38","#00C19F","#00B9E3","#619CFF","#DB72FB","#FF61C3"]},"legend":null},
  "stroke":{"field":"s","type":"nominal","scale":{"domain":["S1","S2","S3","S4","S5","S6","S7","S8","S9"],"range":["#F8766D","#D39200","#93AA00","#00BA38","#00C19F","#00B9E3","#619CFF","#DB72FB","#FF61C3"]},"legend":null}}},
{"title":"KEGG","width":260,"height":241,"transform":[{"filter":"datum.p=='KEGG'"}],
 "mark":{"type":"area","fillOpacity":0.3,"strokeWidth":1.5,"strokeOpacity":1},
 "encoding":{
  "x":{"field":"d","type":"ordinal","scale":{"type":"point","padding":0.6,"domain":["50K","100K","500K","1000K","2500K","5000K","10000K","15000K"]},"axis":{"title":null}},
  "y":{"field":"hi","type":"quantitative","scale":{"domain":[5.466,7.94],"zero":false,"nice":false},"axis":{"title":null,"values":[5.5,6.0,6.5,7.0,7.5],"format":".1f"}},
  "y2":{"field":"lo"},
  "color":{"field":"s","type":"nominal","scale":{"domain":["S1","S2","S3","S4","S5","S6","S7","S8","S9"],"range":["#F8766D","#D39200","#93AA00","#00BA38","#00C19F","#00B9E3","#619CFF","#DB72FB","#FF61C3"]},"legend":null},
  "stroke":{"field":"s","type":"nominal","scale":{"domain":["S1","S2","S3","S4","S5","S6","S7","S8","S9"],"range":["#F8766D","#D39200","#93AA00","#00BA38","#00C19F","#00B9E3","#619CFF","#DB72FB","#FF61C3"]},"legend":null}}},
{"title":"UniRef90","width":252,"height":241,"transform":[{"filter":"datum.p=='UniRef90'"}],
 "mark":{"type":"area","fillOpacity":0.3,"strokeWidth":1.5,"strokeOpacity":1},
 "encoding":{
  "x":{"field":"d","type":"ordinal","scale":{"type":"point","padding":0.6,"domain":["50K","100K","500K","1000K","2500K","5000K","10000K","15000K"]},"axis":{"title":null}},
  "y":{"field":"hi","type":"quantitative","scale":{"domain":[7.2,11.27],"zero":false,"nice":false},"axis":{"title":null,"values":[8,9,10,11],"format":"d"}},
  "y2":{"field":"lo"},
  "color":{"field":"s","type":"nominal","scale":{"domain":["S1","S2","S3","S4","S5","S6","S7","S8","S9"],"range":["#F8766D","#D39200","#93AA00","#00BA38","#00C19F","#00B9E3","#619CFF","#DB72FB","#FF61C3"]},"legend":null},
  "stroke":{"field":"s","type":"nominal","scale":{"domain":["S1","S2","S3","S4","S5","S6","S7","S8","S9"],"range":["#F8766D","#D39200","#93AA00","#00BA38","#00C19F","#00B9E3","#619CFF","#DB72FB","#FF61C3"]},"legend":null}}}
],
"config":{
 "view":{"stroke":null},
 "font":"Liberation Sans",
 "axis":{"grid":false,"domainColor":"black","domainWidth":1.2,"tickColor":"black","tickWidth":1.2,"tickSize":4,"labelColor":"#4D4D4D","labelFontSize":13,"labelFont":"Liberation Sans","labelPadding":3},
 "axisX":{"labelAngle":-60,"labelAlign":"right","labelBaseline":"top","minExtent":50,"maxExtent":50},
 "axisY":{"minExtent":30,"maxExtent":30},
 "title":{"anchor":"start","frame":"group","fontSize":19.5,"font":"Liberation Sans","fontWeight":"normal","color":"black","baseline":"alphabetic","offset":9}
}
}
